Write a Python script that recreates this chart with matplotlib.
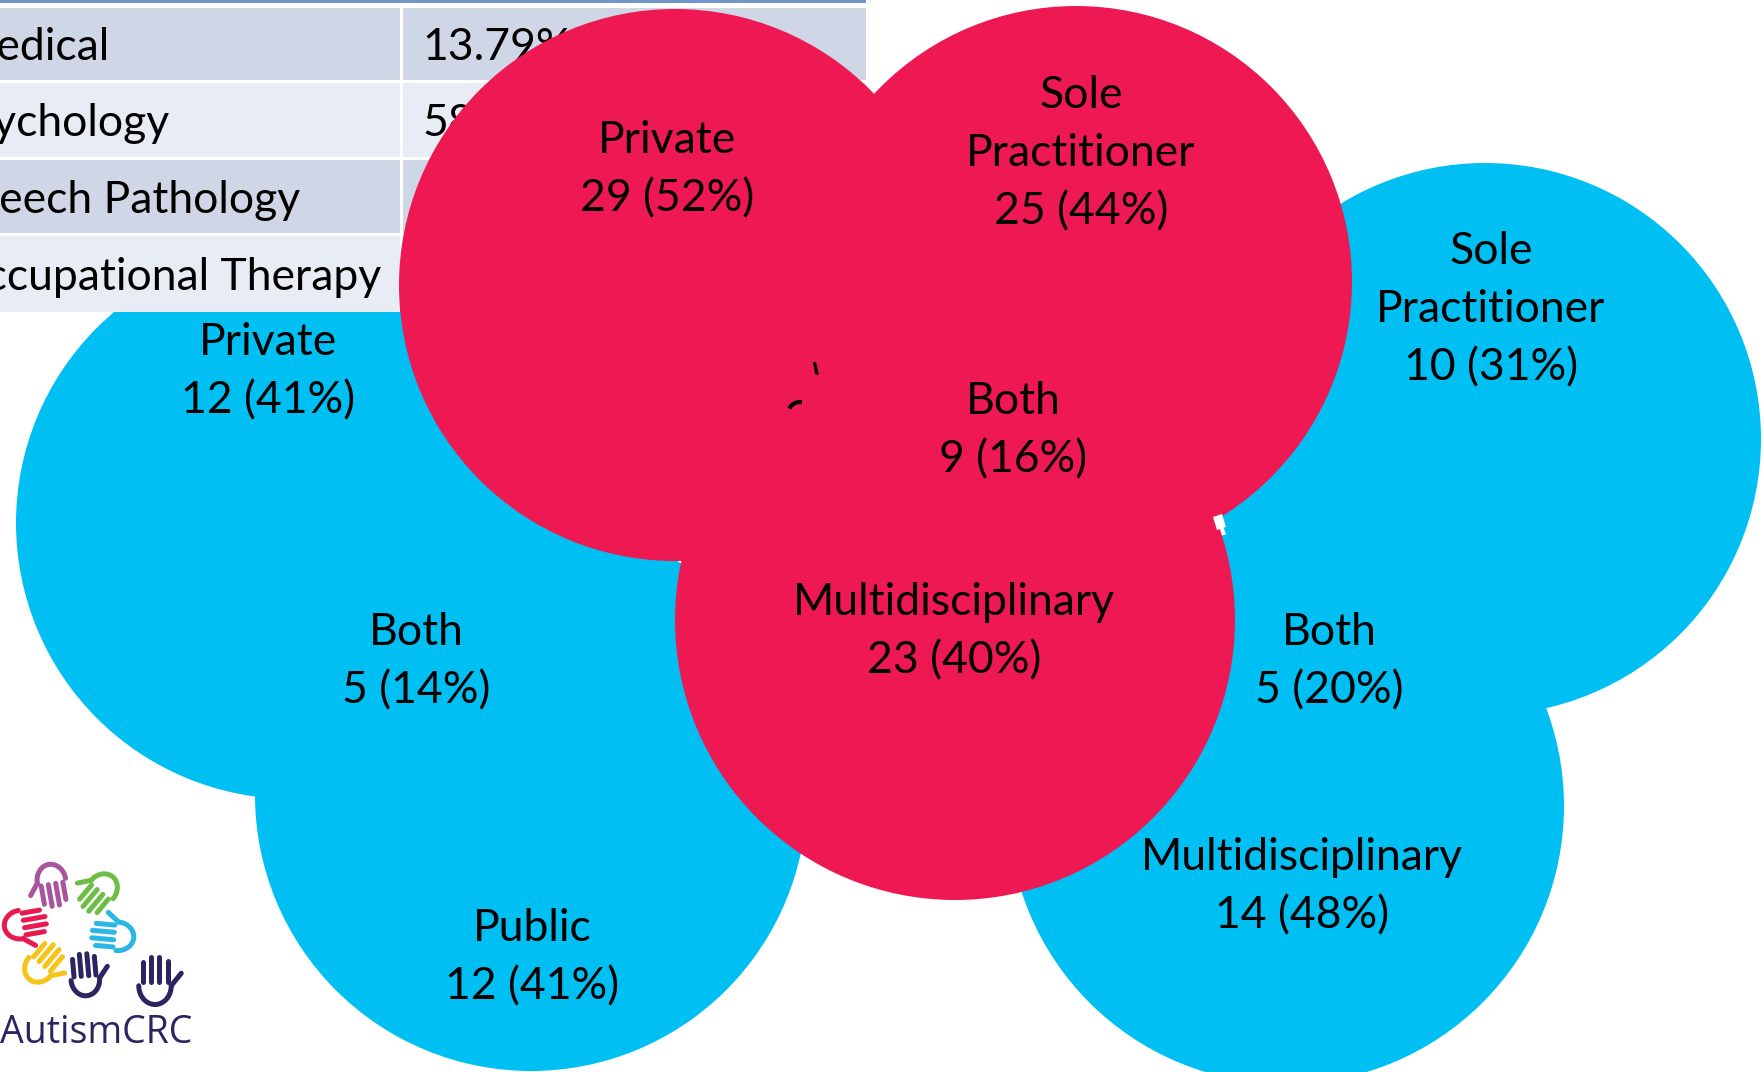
import numpy as np
import matplotlib
matplotlib.use("Agg")
import matplotlib.pyplot as plt
from matplotlib.patches import Circle, Rectangle, Polygon

# ---------------- data ----------------
table_disciplines = ["Medical", "Psychology", "Speech Pathology", "Occupational Therapy"]
table_values = ["13.79%", "58.62%", "10.34%", "17.24%"]

red_labels = ["Private", "Sole\nPractitioner", "Multidisciplinary", "Both"]
red_counts = [29, 25, 23, 9]
red_pcts = [52, 44, 40, 16]

blue_left_labels = ["Private", "Public", "Both"]
blue_left_counts = [12, 12, 5]
blue_left_pcts = [41, 41, 14]

blue_right_labels = ["Sole\nPractitioner", "Multidisciplinary", "Both"]
blue_right_counts = [10, 14, 5]
blue_right_pcts = [31, 48, 20]

# ---------------- layout ----------------
W, H = 1764, 1072
RED = "#EE1952"
BLUE = "#00BFF3"
FONT = ["Lato", "DejaVu Sans"]
FS = 32
LINE_GAP = 58.5
TEXT_DY = 3.5

fig = plt.figure(figsize=(W / 100, H / 100), dpi=100)
ax = fig.add_axes([0, 0, 1, 1])
ax.set_xlim(0, W)
ax.set_ylim(H, 0)
ax.axis("off")

# circle layout: (cx, cy, r) ; label anchor (x, y)
red_circles = [(675, 285, 276), (1076, 282, 276), (955, 620, 280), None]
red_text_pos = [(667, 166), (1081, 150), (954, 628), (1013, 427)]
blue_left_circles = [(292, 523, 276), (531, 795, 276), None]
blue_left_text_pos = [(268, 368), (532, 954), (416, 658)]
blue_right_circles = [(1485, 439, 276), (1286, 806, 278), None]
blue_right_text_pos = [(1491, 306), (1302, 883), (1329, 658)]


def draw_label(x, y, name, count, pct):
    lines = name.split("\n") + [f"{count} ({pct}%)"]
    n = len(lines)
    for i, ln in enumerate(lines):
        yy = y + TEXT_DY + (i - (n - 1) / 2) * LINE_GAP
        ax.text(x, yy, ln, ha="center", va="center", fontsize=FS,
                family=FONT, color="black", zorder=6)


# blue circles (bottom layer)
for c in blue_left_circles + blue_right_circles:
    if c is not None:
        ax.add_patch(Circle((c[0], c[1]), c[2], color=BLUE, lw=0, zorder=1))

# table
row_tops = [8, 83, 160, 236]
row_bots = [80, 157, 233, 312]
row_cols = ["#CFD6E5", "#E8ECF4", "#CFD6E5", "#E8ECF4"]
row_text_x = [-44, -52, -50, -50]
ax.add_patch(Rectangle((-10, 0), 876, 2.5, color="#6F95C9", lw=0, zorder=2))
for i, (name, val) in enumerate(zip(table_disciplines, table_values)):
    t, b = row_tops[i], row_bots[i]
    ax.add_patch(Rectangle((-10, t), 410, b - t, color=row_cols[i], lw=0, zorder=2))
    ax.add_patch(Rectangle((403, t), 463, b - t, color=row_cols[i], lw=0, zorder=2))
    ym = (t + b) / 2 + 4
    ax.text(row_text_x[i], ym, name, ha="left", va="center", fontsize=FS, family=FONT,
            color="black", zorder=2.5, clip_on=True)
    ax.text(422, ym, val, ha="left", va="center", fontsize=FS, family=FONT,
            color="black", zorder=2.5, clip_on=True)

# red circles
for c in red_circles:
    if c is not None:
        ax.add_patch(Circle((c[0], c[1]), c[2], color=RED, lw=0, zorder=3))

# small artifacts
ax.add_patch(Polygon([[813, 362], [816, 362], [819, 375], [815, 374]], closed=True,
                     color="black", lw=0, zorder=4))
tt = np.linspace(0.15 * np.pi, 0.55 * np.pi, 20)
ax.plot(800 - 12 * np.cos(tt), 414 - 12 * np.sin(tt), color="black", lw=3,
        solid_capstyle="butt", zorder=4)
ax.add_patch(Polygon([[1213, 517], [1222, 514], [1226, 527], [1217, 530]], closed=True,
                     color="white", lw=0, zorder=4))

# labels
for (x, y), n, c, p in zip(red_text_pos, red_labels, red_counts, red_pcts):
    draw_label(x, y, n, c, p)
for (x, y), n, c, p in zip(blue_left_text_pos, blue_left_labels, blue_left_counts, blue_left_pcts):
    draw_label(x, y, n, c, p)
for (x, y), n, c, p in zip(blue_right_text_pos, blue_right_labels, blue_right_counts, blue_right_pcts):
    draw_label(x, y, n, c, p)


# ---------------- logo ----------------
def draw_hand(cx, cy, phi_deg, color, s=22):
    phi = np.radians(phi_deg)
    u = np.array([np.cos(phi), -np.sin(phi)])
    v = np.array([np.sin(phi), np.cos(phi)])

    def P(a, b):
        return np.array([cx, cy]) + s * (a * v + b * u)

    for a, L in zip([-0.5, -0.17, 0.17, 0.5], [0.8, 1.0, 1.0, 0.85]):
        p0, p1 = P(a, 0.0), P(a, L)
        ax.plot([p0[0], p1[0]], [p0[1], p1[1]], color=color, lw=3.6,
                solid_capstyle="round", zorder=7)
    t = np.linspace(0, np.pi, 30)
    pts = np.array([P(0.65 * np.cos(k), -0.15 - 0.75 * np.sin(k)) for k in t])
    ax.plot(pts[:, 0], pts[:, 1], color=color, lw=3.6, solid_capstyle="round", zorder=7)
    p0, p1 = P(0.65, -0.15), P(1.05, 0.35)
    ax.plot([p0[0], p1[0]], [p0[1], p1[1]], color=color, lw=3.6,
            solid_capstyle="round", zorder=7)


draw_hand(52, 884, -80, "#A8559E")
draw_hand(100, 892, -130, "#6DBE45")
draw_hand(24, 924, 10, "#E8194F")
draw_hand(114, 936, 175, "#29B7E5")
draw_hand(42, 964, 50, "#F6C316")
draw_hand(85, 976, 95, "#2B2661")
draw_hand(155, 982, 90, "#2B2661", s=25)
ax.text(0, 1033, "AutismCRC", ha="left", va="center", fontsize=27, fontweight="medium",
        family=["Open Sans", "DejaVu Sans"], color="#2B2661", zorder=7)

fig.savefig("out.png", dpi=100)
